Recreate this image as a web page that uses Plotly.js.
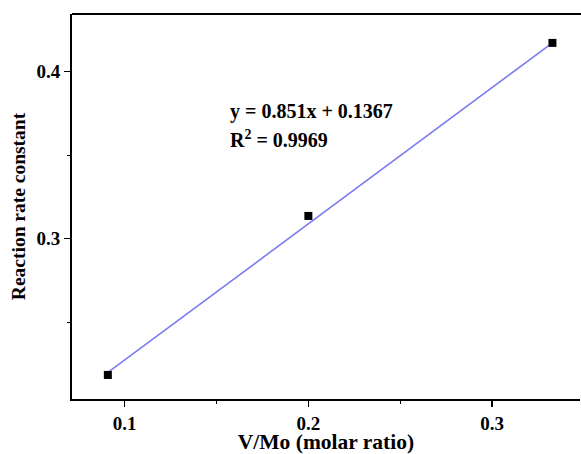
<!DOCTYPE html>
<html>
<head>
<meta charset="utf-8">
<script src="https://cdn.plot.ly/plotly-3.0.1.min.js"></script>
<style>html,body{margin:0;padding:0;background:#fff;overflow:hidden;}#chart{width:581px;height:454px;}</style>
</head>
<body>
<div id="chart"></div>
<script>
// Data
const ratioX = [0.0909, 0.2, 0.3328];
const rateY = [0.2184, 0.3136, 0.4172];
// Fitted line endpoints (as drawn)
const fitX = [0.0913, 0.3328];
const fitY = [0.2202, 0.4172];
const xTickVals = [0.1, 0.2, 0.3];
const xTickText = ['0.1', '0.2', '0.3'];
const xMinorVals = [0.15, 0.25];
const yTickVals = [0.3, 0.4];
const yTickText = ['0.3', '0.4'];
const yMinorVals = [0.25, 0.35];
const equationLine = 'y = 0.851x + 0.1367';
const r2Line = 'R<sup>2</sup> = 0.9969';

const font = 'Liberation Serif';
const xRange = [0.0714, 0.3478];
const yRange = [0.204, 0.4345];

const traces = [
  {x: fitX, y: fitY, mode: 'lines', type: 'scatter',
   line: {color: '#7b7bf2', width: 1.6}},
  {x: ratioX, y: rateY, mode: 'markers', type: 'scatter',
   marker: {symbol: 'square', size: 8, color: '#000'}},
  {x: [xRange[0]], y: [yRange[0]], xaxis: 'x2', yaxis: 'y2', mode: 'markers',
   marker: {opacity: 0}, type: 'scatter'}
];

const layout = {
  width: 581, height: 454,
  margin: {l: 72, r: 1, t: 14, b: 55},
  showlegend: false,
  paper_bgcolor: '#fff', plot_bgcolor: '#fff',
  font: {family: font, color: '#000'},
  xaxis: {
    range: xRange,
    tickvals: xTickVals, ticktext: xTickText.map(t => '<b>' + t + '</b>'),
    ticks: 'outside', ticklen: 6, tickwidth: 1.5, tickcolor: '#000',
    showline: true, linecolor: '#000', linewidth: 2, mirror: false,
    showgrid: false, zeroline: false,
    tickfont: {family: font, size: 19, color: '#000', weight: 'bold'},
    title: {text: 'V/Mo (molar ratio)', font: {family: font, size: 21.5, color: '#000', weight: 'bold'}, standoff: 6}
  },
  yaxis: {
    range: yRange,
    tickvals: yTickVals, ticktext: yTickText.map(t => '<b>' + t + '</b>'),
    ticks: 'outside', ticklen: 6, tickwidth: 1.5, tickcolor: '#000',
    showline: true, linecolor: '#000', linewidth: 2, mirror: false,
    showgrid: false, zeroline: false,
    tickfont: {family: font, size: 19, color: '#000', weight: 'bold'},
    title: {text: 'Reaction rate constant', font: {family: font, size: 19.5, color: '#000', weight: 'bold'}, standoff: 6}
  },
  xaxis2: {
    overlaying: 'x', anchor: 'y', range: xRange,
    tickvals: xMinorVals, showticklabels: false,
    ticks: 'outside', ticklen: 4, tickwidth: 1.2, tickcolor: '#000',
    showline: false, showgrid: false, zeroline: false
  },
  yaxis2: {
    overlaying: 'y', anchor: 'x', range: yRange,
    tickvals: yMinorVals, showticklabels: false,
    ticks: 'outside', ticklen: 4, tickwidth: 1.2, tickcolor: '#000',
    showline: false, showgrid: false, zeroline: false
  },
  shapes: [{
    type: 'line', xref: 'paper', yref: 'paper', x0: 0, x1: 1.01, y0: 1, y1: 1,
    line: {color: '#000', width: 2}
  }],
  annotations: [
    {xref: 'paper', yref: 'paper', x: 0.307, y: 0.748,
     xanchor: 'left', yanchor: 'middle', align: 'left', showarrow: false,
     text: equationLine, font: {family: font, size: 20, color: '#000', weight: 'bold'}},
    {xref: 'paper', yref: 'paper', x: 0.307, y: 0.675,
     xanchor: 'left', yanchor: 'middle', align: 'left', showarrow: false,
     text: r2Line, font: {family: font, size: 20, color: '#000', weight: 'bold'}}
  ]
};

Plotly.newPlot('chart', traces, layout, {displayModeBar: false, staticPlot: true});
</script>
</body>
</html>
